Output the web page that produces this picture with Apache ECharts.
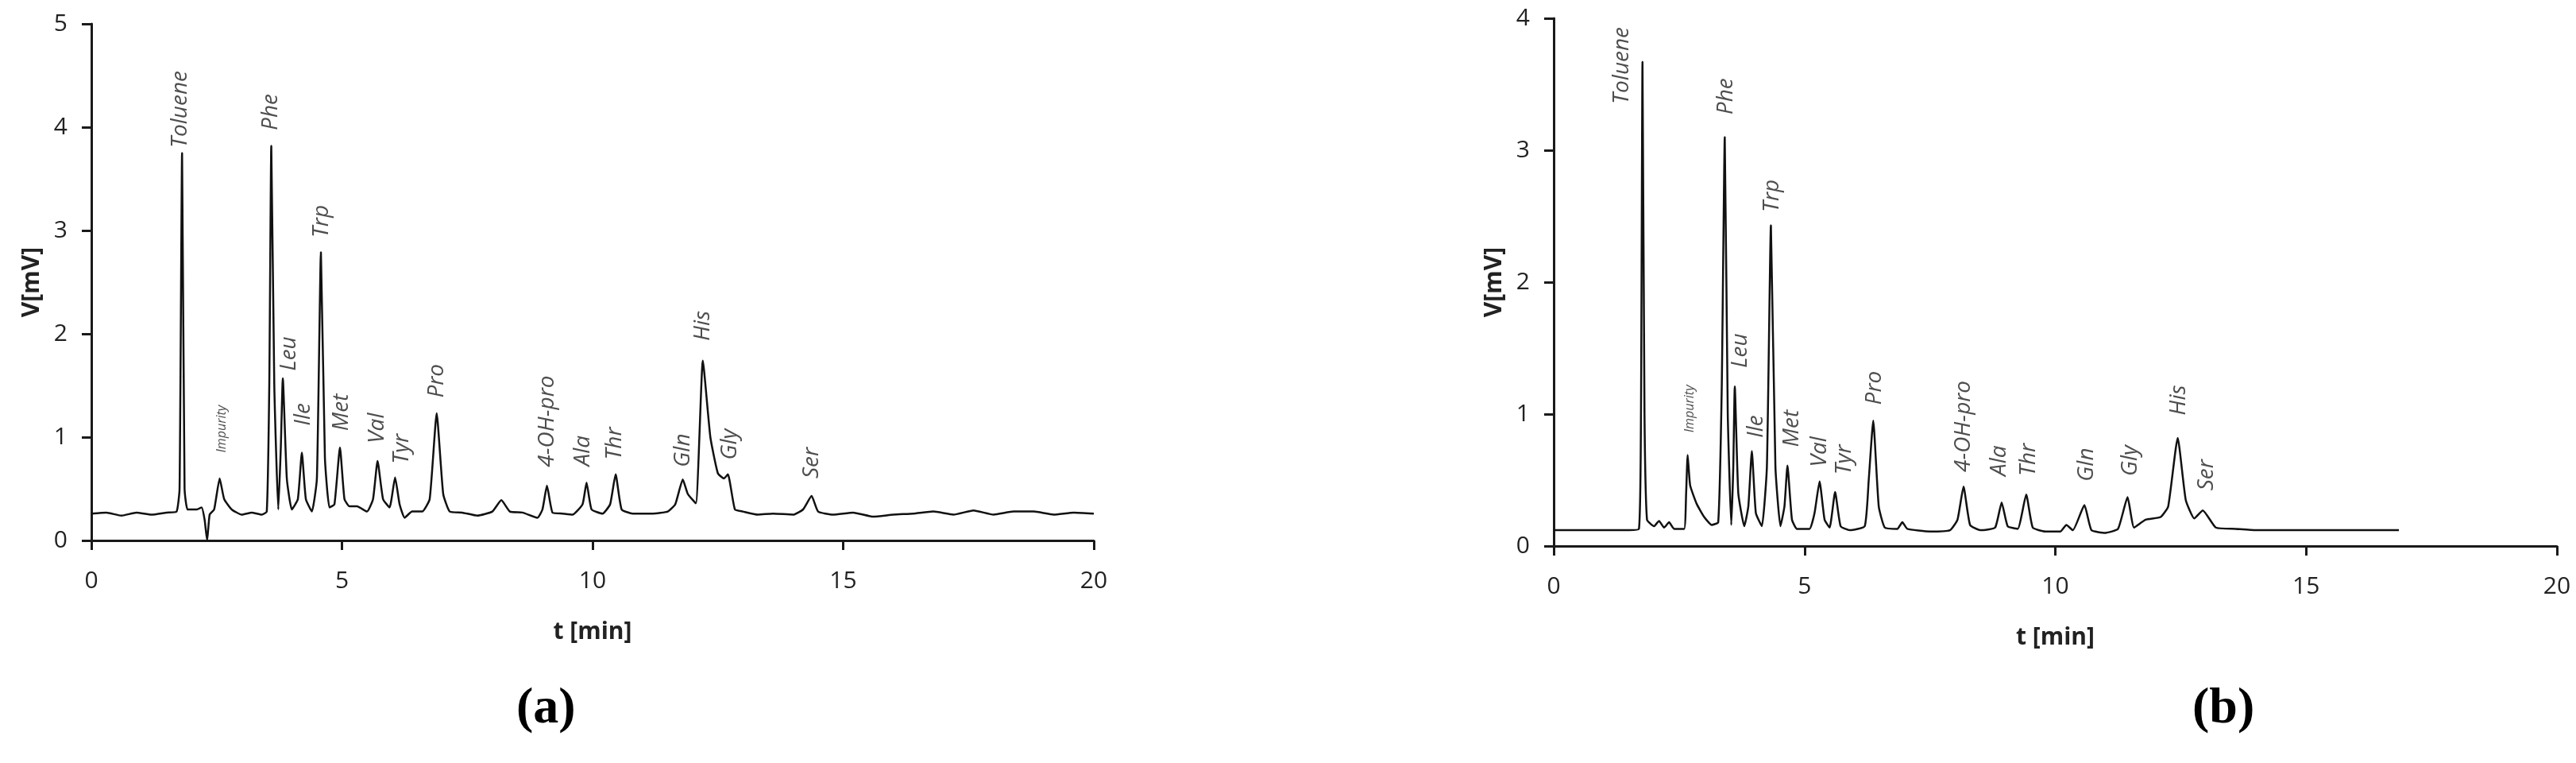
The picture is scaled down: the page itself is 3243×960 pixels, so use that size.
<!DOCTYPE html>
<html><head><meta charset="utf-8">
<script src="https://cdn.jsdelivr.net/npm/echarts@6/dist/echarts.min.js"></script>
<style>html,body{margin:0;background:#fff}#c{width:3243px;height:960px}</style>
</head><body><div id="c"></div>
<script>
const xTicks = [0, 5, 10, 15, 20];
const tA = [0,0.3,0.6,0.9,1.2,1.5,1.7,1.76,1.81,1.86,1.92,2.1,2.2,2.26,2.31,2.36,2.45,2.56,2.65,2.8,3.0,3.2,3.4,3.5,3.55,3.59,3.65,3.73,3.78,3.82,3.9,4.0,4.12,4.2,4.28,4.4,4.5,4.58,4.66,4.75,4.85,4.96,5.05,5.15,5.3,5.5,5.62,5.71,5.82,5.95,6.06,6.15,6.25,6.4,6.6,6.75,6.89,7.02,7.15,7.4,7.7,8.0,8.18,8.35,8.6,8.9,9.0,9.09,9.2,9.4,9.6,9.8,9.88,9.98,10.2,10.35,10.46,10.58,10.8,11.2,11.5,11.65,11.8,11.9,12.06,12.2,12.35,12.5,12.62,12.7,12.84,13.0,13.3,13.6,14.0,14.2,14.37,14.5,14.8,15.2,15.6,16.0,16.4,16.8,17.2,17.6,18.0,18.4,18.8,19.2,19.6,20.0];
const vA = [0.26,0.27,0.24,0.27,0.25,0.27,0.28,0.5,3.75,0.5,0.3,0.3,0.32,0.2,0.0,0.25,0.3,0.6,0.4,0.3,0.25,0.27,0.25,0.28,1.5,3.82,1.5,0.3,0.9,1.57,0.6,0.3,0.4,0.85,0.4,0.28,0.6,2.79,0.8,0.32,0.35,0.9,0.4,0.33,0.33,0.28,0.4,0.77,0.4,0.32,0.61,0.35,0.22,0.28,0.28,0.4,1.23,0.45,0.28,0.27,0.24,0.28,0.39,0.28,0.27,0.22,0.3,0.53,0.27,0.26,0.25,0.35,0.56,0.3,0.26,0.35,0.64,0.3,0.26,0.26,0.28,0.35,0.59,0.45,0.36,1.74,1.0,0.65,0.6,0.64,0.3,0.28,0.25,0.26,0.25,0.3,0.43,0.28,0.25,0.27,0.23,0.25,0.26,0.28,0.25,0.29,0.25,0.28,0.28,0.25,0.27,0.26];
const tB = [0,0.5,1.0,1.5,1.7,1.74,1.77,1.81,1.86,2.0,2.1,2.2,2.3,2.4,2.6,2.64,2.67,2.72,2.85,3.0,3.15,3.28,3.35,3.41,3.47,3.54,3.58,3.61,3.68,3.8,3.88,3.95,4.03,4.15,4.25,4.33,4.42,4.52,4.6,4.66,4.75,4.85,5.1,5.2,5.3,5.4,5.5,5.61,5.72,5.9,6.2,6.28,6.37,6.48,6.6,6.85,6.95,7.05,7.5,7.9,8.05,8.17,8.3,8.5,8.8,8.93,9.05,9.25,9.42,9.55,9.8,10.1,10.22,10.35,10.58,10.72,11.0,11.25,11.44,11.57,11.8,12.1,12.25,12.44,12.6,12.77,12.94,13.2,13.6,14.0,15.0,16.0,16.85];
const vB = [0.12,0.12,0.12,0.12,0.13,1.0,3.67,1.0,0.2,0.15,0.19,0.14,0.18,0.13,0.13,0.4,0.69,0.46,0.32,0.22,0.16,0.18,1.2,3.1,1.0,0.16,0.6,1.21,0.4,0.15,0.3,0.72,0.25,0.15,0.6,2.43,0.6,0.15,0.3,0.61,0.2,0.13,0.13,0.25,0.49,0.2,0.14,0.41,0.15,0.12,0.15,0.5,0.95,0.3,0.14,0.13,0.18,0.13,0.11,0.12,0.2,0.45,0.16,0.12,0.14,0.33,0.15,0.13,0.39,0.14,0.11,0.11,0.16,0.12,0.31,0.12,0.1,0.13,0.37,0.14,0.2,0.22,0.3,0.82,0.35,0.21,0.27,0.14,0.13,0.12,0.12,0.12,0.12];
const namesA = ['Toluene','Impurity','Phe','Leu','Ile','Trp','Met','Val','Tyr','Pro','4-OH-pro','Ala','Thr','Gln','His','Gly','Ser'];
const labTA = [1.77,2.6,3.59,3.95,4.23,4.6,5.0,5.7,6.19,6.9,9.1,9.81,10.45,11.8,12.2,12.75,14.37];
const labVA = [3.8,0.85,3.97,1.64,1.11,2.93,1.06,0.94,0.74,1.38,0.71,0.72,0.78,0.71,1.93,0.78,0.6];
const namesB = ['Toluene','Impurity','Phe','Leu','Ile','Trp','Met','Val','Tyr','Pro','4-OH-pro','Ala','Thr','Gln','Gly','His','Ser'];
const labTB = [1.36,2.72,3.43,3.72,4.04,4.36,4.75,5.3,5.79,6.4,8.17,8.88,9.47,10.62,11.49,12.46,13.02];
const labVB = [3.35,0.86,3.27,1.35,0.82,2.53,0.75,0.6,0.54,1.07,0.56,0.53,0.53,0.49,0.53,0.99,0.42];

const F = "'Open Sans', 'Noto Sans', sans-serif";
const ax = {lineStyle:{color:'#1a1a1a',width:3}};
function xa(i){return {type:'value',gridIndex:i,min:0,max:20,interval:5,axisLine:ax,
  axisTick:{show:true,length:12,lineStyle:{color:'#1a1a1a',width:3}},splitLine:{show:false},
  axisLabel:{fontFamily:F,fontSize:30,color:'#222',margin:36},
  name:'t [min]',nameLocation:'middle',nameGap:100,nameTextStyle:{fontFamily:F,fontSize:30,fontWeight:'bold',color:'#222'}};}
function ya(i,max){return {type:'value',gridIndex:i,min:0,max:max,interval:1,axisLine:Object.assign({show:true},ax),
  axisTick:{show:true,length:12,lineStyle:{color:'#1a1a1a',width:3}},splitLine:{show:false},
  axisLabel:{fontFamily:F,fontSize:30,color:'#222',margin:30},
  name:'V[mV]',nameLocation:'middle',nameGap:60,nameTextStyle:{fontFamily:F,fontSize:30,fontWeight:'bold',color:'#222'}};}
function line(i,t,v){return {type:'line',xAxisIndex:i,yAxisIndex:i,data:t.map((x,k)=>[x,v[k]]),
  showSymbol:false,symbol:'none',lineStyle:{color:'#111',width:2.5},smooth:0.15,silent:true,z:3};}
function labs(i,n,t,v){return {type:'scatter',xAxisIndex:i,yAxisIndex:i,symbolSize:0,silent:true,
  data:n.map((s,k)=>({value:[t[k],v[k]],name:s,label:{fontSize:s==='Impurity'?16:28}})),
  label:{show:true,formatter:'{b}',rotate:90,position:[0,0],align:'left',verticalAlign:'middle',
    fontFamily:F,fontStyle:'italic',color:'#222'}};}
const chart = echarts.init(document.getElementById('c'));
chart.setOption({
  animation:false,
  grid:[{left:115,width:1262,top:30,height:650},{left:1956,width:1263,top:23,height:664}],
  xAxis:[xa(0),xa(1)], yAxis:[ya(0,5),ya(1,4)],
  series:[line(0,tA,vA),line(1,tB,vB),labs(0,namesA,labTA,labVA),labs(1,namesB,labTB,labVB)],
  graphic:[
    {type:'text',left:650,top:860,style:{text:'(a)',font:'bold 64px "Liberation Serif", serif',fill:'#000'}},
    {type:'text',left:2760,top:860,style:{text:'(b)',font:'bold 64px "Liberation Serif", serif',fill:'#000'}}
  ]
});
</script></body></html>
